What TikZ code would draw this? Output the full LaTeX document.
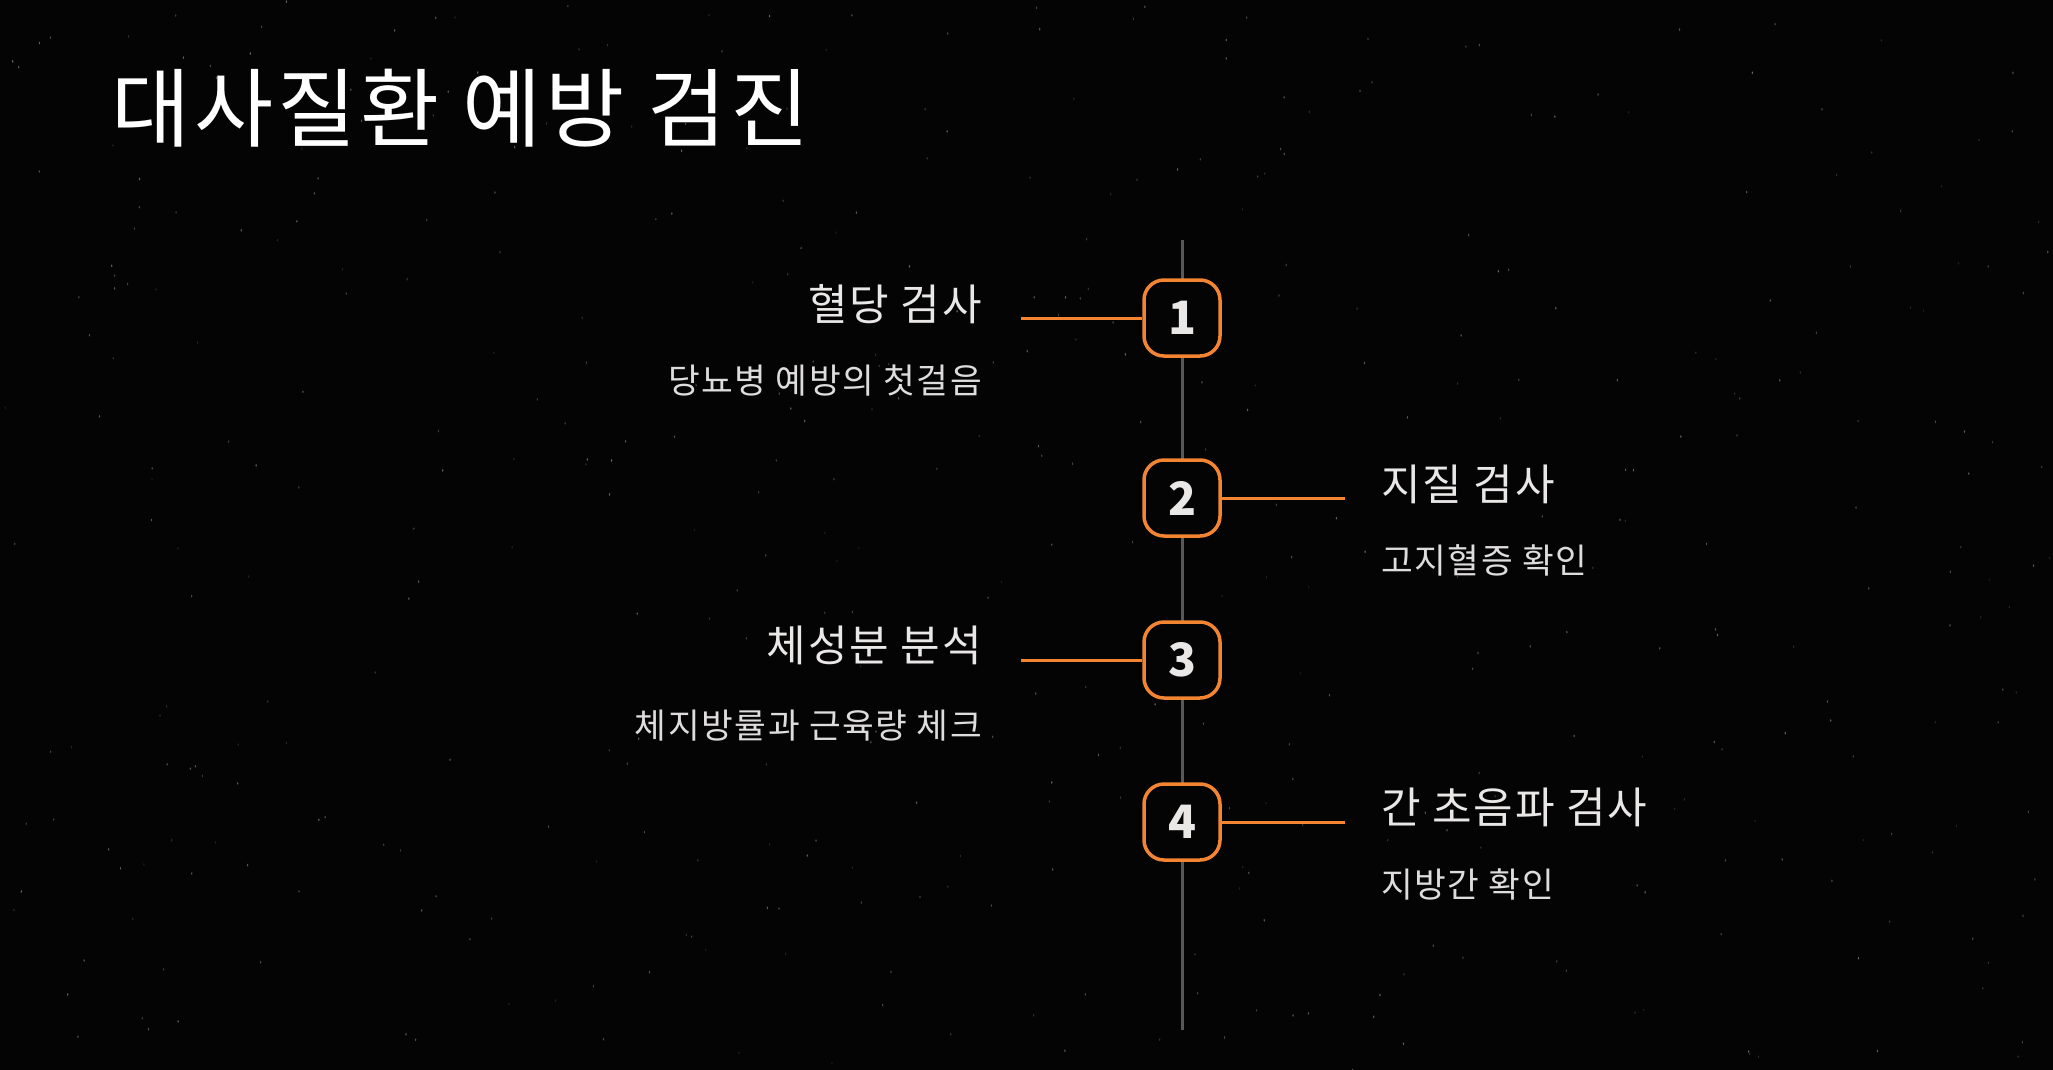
\documentclass[tikz,border=0pt]{standalone}
\usepackage{fontspec}
\setmainfont{Noto Sans CJK KR}
\definecolor{bg}{RGB}{4,4,4}
\definecolor{accent}{RGB}{242,132,50}
\definecolor{rail}{RGB}{88,88,88}
\definecolor{txt}{RGB}{234,231,231}
\definecolor{subtxt}{RGB}{222,220,220}
\begin{document}
\begin{tikzpicture}[x=1pt,y=-1pt,
  badge/.style={draw=accent, line width=3.5pt, rounded corners=20pt,
    minimum width=76pt, minimum height=76pt, fill=bg, text=txt,
    font=\fontsize{46}{50}\selectfont\bfseries, inner sep=0pt},
  link/.style={draw=accent, line width=3pt},
  railline/.style={draw=rail, line width=3pt},
  ititle/.style={text=txt, font=\fontsize{43}{50}\selectfont\addfontfeature{LetterSpace=4.5}, inner sep=0pt},
  isub/.style={text=subtxt, font=\fontsize{34.5}{41}\selectfont\addfontfeature{LetterSpace=4.5}, inner sep=0pt},
  heading/.style={text=white, font=\fontsize{86}{100}\selectfont\addfontfeature{LetterSpace=4.5}, inner sep=0pt}
]
\fill[bg] (0,0) rectangle (2053,1070);
\useasboundingbox (0,0) rectangle (2053,1070);
% faint specks of the background
\pgfmathsetseed{42}
\foreach \i in {1,...,450}{
  \pgfmathsetmacro\px{rnd*2053}
  \pgfmathsetmacro\py{rnd*1070}
  \pgfmathsetmacro\op{0.10+0.30*rnd}
  \fill[white, opacity=\op] (\px,\py) ellipse (0.7pt and 1.5pt);
}
% heading
\node[heading, anchor=base west] (title) at (111,141) {대사질환 예방 검진};
% rail
\coordinate (railtop) at (1182,240);
\coordinate (railbot) at (1182,1030);
\draw[railline] (railtop) -- (railbot);
% badges
\node[badge] (b1) at (1182,318) {1};
\node[badge] (b2) at (1182,498) {2};
\node[badge] (b3) at (1182,660) {3};
\node[badge] (b4) at (1182,822) {4};
% connector ends
\coordinate (c1) at (1021,318);
\coordinate (c2) at (1345,498);
\coordinate (c3) at (1021,660);
\coordinate (c4) at (1345,822);
\draw[link] (c1) -- (b1.west);
\draw[link] (b2.east) -- (c2);
\draw[link] (c3) -- (b3.west);
\draw[link] (b4.east) -- (c4);
% texts
\node[ititle, anchor=base east] (t1) at (982,320) {혈당 검사};
\node[isub, anchor=base east] (s1) at (982,393) {당뇨병 예방의 첫걸음};
\node[ititle, anchor=base west] (t2) at (1381,500) {지질 검사};
\node[isub, anchor=base west] (s2) at (1381,573) {고지혈증 확인};
\node[ititle, anchor=base east] (t3) at (982,661) {체성분 분석};
\node[isub, anchor=base east] (s3) at (982,738) {체지방률과 근육량 체크};
\node[ititle, anchor=base west] (t4) at (1381,823) {간 초음파 검사};
\node[isub, anchor=base west] (s4) at (1381,897) {지방간 확인};
\end{tikzpicture}
\end{document}
